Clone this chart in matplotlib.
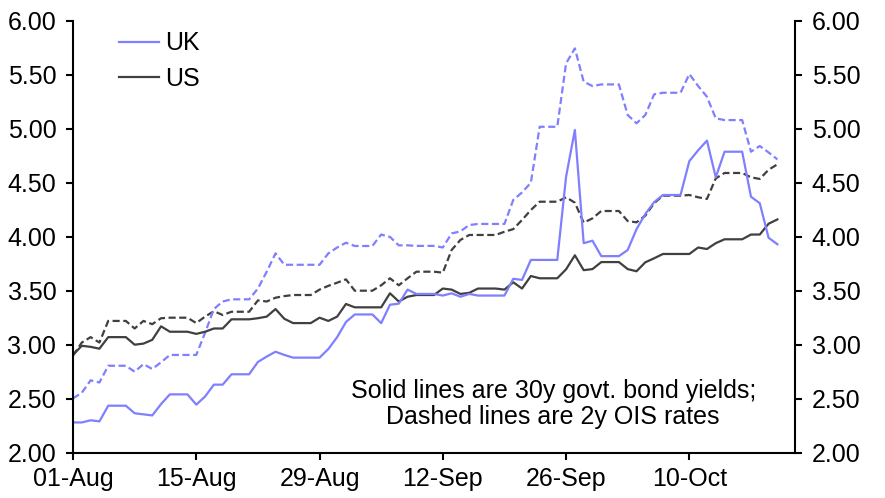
import matplotlib
matplotlib.use("Agg")
import matplotlib.pyplot as plt
import matplotlib.dates as mdates
from matplotlib.lines import Line2D
import pandas as pd

plt.rcParams['font.family'] = ['Liberation Sans', 'DejaVu Sans']

dates = pd.date_range("2022-08-01", "2022-10-20", freq="D")

uk_30y = [2.28, 2.28, 2.30, 2.29, 2.435, 2.435, 2.435,
          2.365, 2.355, 2.345, 2.45, 2.54, 2.54, 2.54,
          2.445, 2.52, 2.63, 2.63, 2.726, 2.726, 2.726,
          2.84, 2.89, 2.935, 2.905, 2.88, 2.88, 2.88,
          2.88, 2.96, 3.07, 3.21, 3.28, 3.28, 3.28,
          3.20, 3.37, 3.38, 3.51, 3.47, 3.47, 3.47,
          3.455, 3.476, 3.444, 3.47, 3.455, 3.455, 3.455,
          3.455, 3.61, 3.60, 3.785, 3.785, 3.785, 3.785,
          4.556, 4.988, 3.94, 3.963, 3.82, 3.82, 3.82,
          3.877, 4.07, 4.21, 4.32, 4.386, 4.386, 4.386,
          4.70, 4.80, 4.89, 4.55, 4.787, 4.787, 4.787,
          4.37, 4.31, 3.99, 3.93]

uk_2y = [2.503, 2.555, 2.67, 2.65, 2.805, 2.805, 2.805,
         2.75, 2.82, 2.775, 2.837, 2.905, 2.905, 2.905,
         2.905, 3.11, 3.33, 3.40, 3.42, 3.42, 3.42,
         3.52, 3.676, 3.846, 3.74, 3.74, 3.74, 3.74,
         3.74, 3.846, 3.90, 3.944, 3.914, 3.914, 3.914,
         4.02, 3.998, 3.92, 3.92, 3.915, 3.915, 3.915,
         3.90, 4.03, 4.05, 4.108, 4.118, 4.118, 4.118,
         4.118, 4.34, 4.41, 4.50, 5.018, 5.018, 5.018,
         5.605, 5.744, 5.435, 5.395, 5.41, 5.41, 5.41,
         5.127, 5.05, 5.127, 5.318, 5.333, 5.333, 5.333,
         5.506, 5.395, 5.296, 5.096, 5.08, 5.08, 5.08,
         4.787, 4.84, 4.78, 4.716]

us_30y = [2.905, 2.99, 2.98, 2.963, 3.07, 3.07, 3.07,
          3.00, 3.01, 3.045, 3.17, 3.12, 3.12, 3.12,
          3.10, 3.12, 3.15, 3.15, 3.235, 3.235, 3.235,
          3.245, 3.26, 3.33, 3.24, 3.20, 3.20, 3.20,
          3.25, 3.22, 3.26, 3.377, 3.346, 3.346, 3.346,
          3.346, 3.476, 3.40, 3.444, 3.46, 3.46, 3.46,
          3.52, 3.51, 3.47, 3.48, 3.52, 3.52, 3.52,
          3.51, 3.578, 3.52, 3.636, 3.615, 3.615, 3.615,
          3.698, 3.828, 3.69, 3.70, 3.765, 3.765, 3.765,
          3.70, 3.68, 3.763, 3.80, 3.84, 3.84, 3.84,
          3.84, 3.90, 3.886, 3.94, 3.976, 3.976, 3.976,
          4.02, 4.02, 4.12, 4.16]

us_2y = [2.90, 3.02, 3.07, 3.02, 3.22, 3.22, 3.22,
         3.15, 3.22, 3.19, 3.245, 3.25, 3.25, 3.25,
         3.20, 3.26, 3.31, 3.275, 3.305, 3.305, 3.305,
         3.41, 3.40, 3.435, 3.45, 3.46, 3.46, 3.46,
         3.51, 3.545, 3.574, 3.605, 3.50, 3.50, 3.50,
         3.55, 3.615, 3.55, 3.615, 3.676, 3.676, 3.676,
         3.667, 3.877, 3.97, 4.016, 4.016, 4.016, 4.016,
         4.046, 4.07, 4.155, 4.247, 4.324, 4.324, 4.324,
         4.365, 4.315, 4.13, 4.17, 4.238, 4.238, 4.238,
         4.145, 4.133, 4.195, 4.31, 4.38, 4.38, 4.38,
         4.386, 4.365, 4.35, 4.54, 4.59, 4.59, 4.59,
         4.55, 4.535, 4.62, 4.67]

tick_dates = pd.to_datetime(["2022-08-01", "2022-08-15", "2022-08-29",
                             "2022-09-12", "2022-09-26", "2022-10-10"])
y_ticks = [2.0, 2.5, 3.0, 3.5, 4.0, 4.5, 5.0, 5.5, 6.0]

UK_COLOR = "#7F7FFF"
US_COLOR = "#404040"
FS = 18

fig = plt.figure(figsize=(8.85, 4.98), dpi=100)
ax = fig.add_axes([0.0825, 0.091, 0.8158, 0.8674])

lw = 1.6
dash = (3.2, 1.6)
ax.plot(dates, us_2y, color=US_COLOR, lw=lw, ls=(0, dash))
ax.plot(dates, uk_2y, color=UK_COLOR, lw=lw, ls=(0, dash))
ax.plot(dates, us_30y, color=US_COLOR, lw=lw)
ax.plot(dates, uk_30y, color=UK_COLOR, lw=lw)

ax.set_xlim(pd.Timestamp("2022-08-01"), pd.Timestamp("2022-10-22"))
ax.set_ylim(2.0, 6.0)
ax.set_xticks(tick_dates)
ax.xaxis.set_major_formatter(mdates.DateFormatter("%d-%b"))
ax.set_yticks(y_ticks)
ax.set_yticklabels([f"{v:.2f}" for v in y_ticks])

ax.spines['top'].set_visible(False)
for s in ['left', 'right', 'bottom']:
    ax.spines[s].set_linewidth(1.5)
    ax.spines[s].set_color('black')

ax.tick_params(axis='both', direction='out', length=5, width=1.5,
               labelsize=FS, colors='black')
ax.tick_params(axis='y', right=True, labelright=True)
ax.tick_params(axis='y', which='major', pad=7)
ax.tick_params(axis='x', pad=5)

handles = [Line2D([], [], color=UK_COLOR, lw=lw),
           Line2D([], [], color=US_COLOR, lw=lw)]
ax.legend(handles, ["UK", "US"], loc='upper left', bbox_to_anchor=(0.043, 1.01),
          frameon=False, fontsize=FS, handlelength=1.6, handletextpad=0.25,
          labelspacing=0.45, borderaxespad=0.2)

ax.text(0.665, 0.113, "Solid lines are 30y govt. bond yields;\nDashed lines are 2y OIS rates",
        transform=ax.transAxes, ha='center', va='center', fontsize=FS,
        linespacing=1.12)

fig.savefig("out.png", dpi=100)
